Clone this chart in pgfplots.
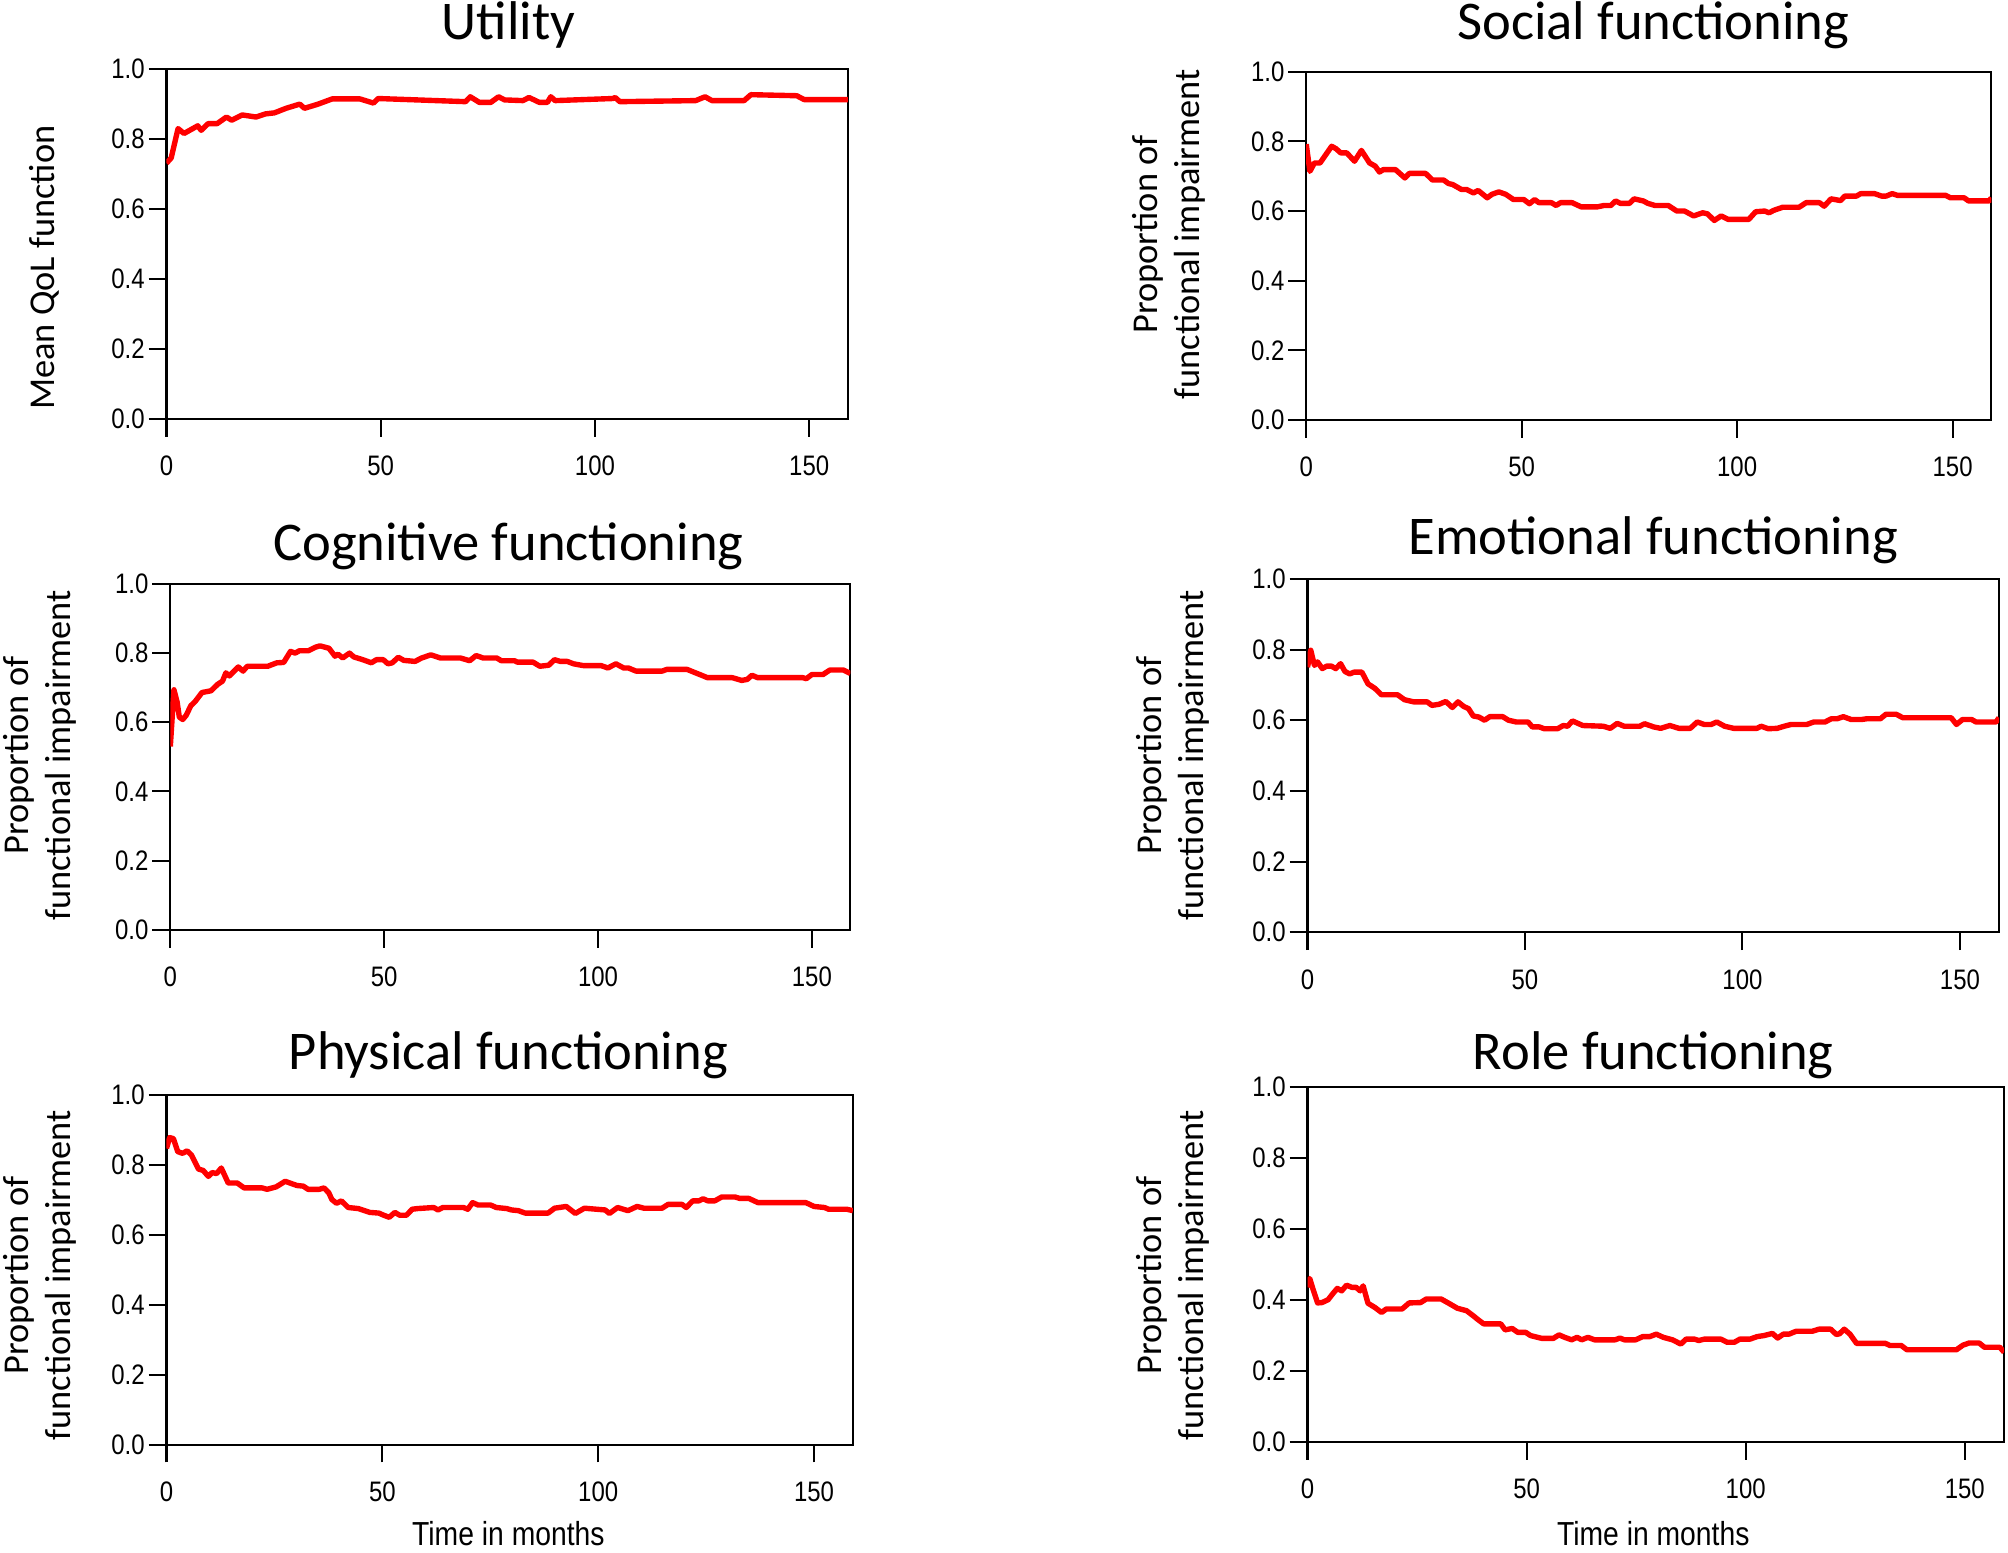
\documentclass[border=0pt]{standalone}
\usepackage{fontspec}
\setmainfont{Carlito}
\newfontfamily\tickfont[FakeStretch=0.85]{Liberation Sans}
\usepackage{pgfplots}
\pgfplotsset{compat=1.18}
\pgfplotsset{panel/.style={
  scale only axis, anchor=south west,
  xmin=0, xmax=159, ymin=0, ymax=1,
  xtick={0,50,100,150}, xticklabels={0,50,100,150},
  ytick={0,0.2,0.4,0.6,0.8,1}, yticklabels={0.0,0.2,0.4,0.6,0.8,1.0},
  xtick pos=lower, ytick pos=left,
  tick align=outside, major tick length=7pt,
  tick style={black, line width=0.8pt},
  axis line style={black, line width=0.8pt},
  tick label style={font=\tickfont\fontsize{11}{12}\selectfont},
  xticklabel style={yshift=-4pt},
  yticklabel style={xshift=2pt},
  every axis plot post/.append style={red, line width=2.1pt, line join=round, mark=none},
}}
\newcommand{\ttl}[1]{\fontsize{21.3}{24}\selectfont #1}
\newcommand{\ylab}{\fontsize{14.2}{16.5}\selectfont}
\begin{document}
\begin{tikzpicture}
\path[use as bounding box] (0,0) rectangle (784pt,606pt);
% Utility
\begin{axis}[panel, at={(65pt,442.5pt)}, width=266pt, height=136.5pt]
\addplot coordinates {(0,0.731)(1.1,0.746)(2.7,0.830)(4.1,0.816)(7.3,0.838)(8.1,0.825)(9.7,0.844)(11.8,0.844)(14,0.863)(15.2,0.854)(17.7,0.869)(20.9,0.863)(23.1,0.872)(25.2,0.875)(27.9,0.888)(31.1,0.9)(32.2,0.888)(35.4,0.9)(38.7,0.915)(45.1,0.915)(48.3,0.903)(49.4,0.916)(69.8,0.907)(70.9,0.921)(73.0,0.905)(75.7,0.905)(77.5,0.921)(78.9,0.912)(83.2,0.910)(84.6,0.919)(87.0,0.905)(88.9,0.905)(89.7,0.921)(90.7,0.910)(104.2,0.916)(104.7,0.919)(105.8,0.907)(123.5,0.910)(125.7,0.921)(127.3,0.910)(134.8,0.910)(136.4,0.927)(147.1,0.924)(148.8,0.913)(159,0.913)};
\end{axis}
% Social
\begin{axis}[panel, at={(510pt,442pt)}, width=267.5pt, height=136pt]
\addplot coordinates {(0,0.792)(0.85,0.714)(1.9,0.738)(3.2,0.738)(5.9,0.786)(6.9,0.779)(8.0,0.767)(9.4,0.767)(11.2,0.743)(12.8,0.774)(14.7,0.738)(16.0,0.729)(17.0,0.712)(17.9,0.719)(20.7,0.719)(22.9,0.695)(23.9,0.708)(27.7,0.708)(29.3,0.689)(31.9,0.689)(33.0,0.679)(34.0,0.676)(36.0,0.662)(37.2,0.662)(38.8,0.652)(39.9,0.659)(42.0,0.638)(43.1,0.648)(44.7,0.655)(46.3,0.648)(48.1,0.633)(50.5,0.633)(51.8,0.621)(53.0,0.633)(54.0,0.624)(56.9,0.624)(58.0,0.616)(59.0,0.624)(61.7,0.624)(63.8,0.612)(67.6,0.612)(69.1,0.616)(70.7,0.616)(71.8,0.629)(72.9,0.622)(75.0,0.622)(76.1,0.635)(78.2,0.629)(79.3,0.622)(80.9,0.616)(84.0,0.616)(86.0,0.6)(87.8,0.6)(89.9,0.586)(92.0,0.595)(93.1,0.592)(94.7,0.573)(96.3,0.586)(97.9,0.576)(102.7,0.576)(104.3,0.598)(106.4,0.6)(107.4,0.595)(108.5,0.602)(110.6,0.611)(114.4,0.611)(116.0,0.624)(119.1,0.624)(120.2,0.614)(121.8,0.635)(124.0,0.630)(125.0,0.643)(127.7,0.643)(128.7,0.650)(131.9,0.650)(133.5,0.643)(134.6,0.643)(136.0,0.650)(137.2,0.645)(148.4,0.645)(149.5,0.638)(152.7,0.638)(153.7,0.629)(158.5,0.629)(159,0.638)};
\end{axis}
% Cognitive
\begin{axis}[panel, at={(66.5pt,243pt)}, width=265.5pt, height=135pt]
\addplot coordinates {(0,0.530)(0.85,0.694)(1.6,0.658)(2.1,0.615)(2.9,0.608)(3.7,0.620)(4.8,0.648)(5.8,0.660)(7.4,0.686)(9.5,0.691)(11.1,0.710)(12.2,0.719)(13.0,0.743)(13.8,0.734)(15.9,0.760)(17.0,0.748)(18.0,0.762)(22.8,0.762)(24.9,0.772)(26.5,0.773)(28.1,0.805)(29.2,0.8)(30.2,0.807)(32.3,0.807)(33.9,0.817)(35.0,0.821)(37.1,0.814)(38.5,0.791)(39.2,0.797)(40.3,0.786)(41.9,0.8)(42.9,0.789)(45.0,0.781)(47.0,0.772)(48.2,0.781)(49.8,0.781)(50.9,0.769)(51.9,0.772)(53.3,0.788)(54.6,0.779)(57.2,0.776)(58.8,0.786)(60.9,0.795)(63.1,0.786)(67.8,0.786)(70.0,0.778)(71.5,0.793)(73.1,0.786)(76.3,0.786)(77.4,0.778)(80.5,0.778)(81.1,0.774)(84.8,0.774)(86.4,0.762)(88.5,0.765)(89.8,0.781)(91.2,0.776)(92.8,0.776)(94.3,0.769)(96.5,0.764)(100.7,0.764)(102.3,0.757)(104.2,0.769)(106.0,0.757)(107.1,0.757)(108.9,0.748)(115.0,0.748)(116.1,0.753)(120.8,0.753)(124.6,0.734)(125.6,0.729)(131.4,0.729)(133.6,0.721)(134.9,0.724)(136.0,0.736)(137.3,0.729)(147.9,0.729)(148.7,0.726)(150.0,0.738)(152.6,0.738)(154.2,0.751)(157.4,0.751)(159,0.741)};
\end{axis}
% Emotional
\begin{axis}[panel, at={(510.5pt,242pt)}, width=270pt, height=138pt]
\addplot coordinates {(0,0.750)(0.74,0.798)(1.6,0.755)(2.3,0.765)(3.4,0.746)(4.4,0.753)(5.5,0.753)(6.5,0.746)(7.6,0.760)(8.6,0.738)(9.7,0.731)(10.7,0.736)(12.5,0.736)(13.9,0.703)(15.5,0.690)(17.0,0.672)(20.7,0.672)(22.3,0.658)(24.4,0.652)(27.5,0.652)(28.6,0.642)(30.2,0.645)(31.8,0.653)(33.3,0.636)(34.6,0.652)(35.9,0.639)(37.0,0.633)(38.1,0.612)(39.4,0.609)(40.7,0.6)(41.9,0.610)(44.9,0.610)(46.2,0.6)(48.0,0.595)(50.7,0.595)(51.7,0.581)(53.3,0.581)(54.4,0.576)(57.5,0.576)(58.8,0.585)(59.8,0.583)(60.9,0.598)(63.3,0.585)(68.0,0.583)(69.6,0.577)(71.2,0.591)(72.8,0.583)(76.4,0.583)(77.5,0.590)(79.6,0.581)(81.2,0.577)(83.3,0.585)(85.4,0.577)(88.0,0.577)(89.6,0.595)(91.2,0.588)(92.8,0.588)(94.1,0.595)(95.9,0.583)(98.0,0.577)(103.3,0.577)(104.3,0.583)(105.9,0.576)(108.0,0.577)(109.6,0.583)(111.2,0.588)(114.8,0.588)(116.4,0.595)(119.0,0.595)(120.4,0.604)(121.7,0.604)(123.2,0.610)(125.0,0.602)(127.4,0.602)(128.5,0.604)(131.7,0.604)(133.0,0.617)(135.3,0.617)(136.9,0.607)(148.0,0.607)(149.2,0.588)(150.6,0.602)(152.7,0.602)(153.7,0.595)(158.3,0.595)(159,0.607)};
\end{axis}
% Physical
\begin{axis}[panel, at={(65pt,42pt)}, width=268pt, height=136.5pt]
\addplot coordinates {(0,0.847)(0.74,0.878)(1.6,0.875)(2.6,0.838)(3.7,0.833)(4.8,0.840)(5.8,0.828)(7.4,0.788)(8.5,0.784)(9.7,0.767)(10.6,0.778)(11.6,0.775)(12.7,0.791)(14.3,0.748)(16.4,0.748)(18.0,0.734)(22.2,0.734)(23.3,0.730)(25.4,0.737)(27.5,0.753)(28.6,0.748)(30.2,0.741)(31.7,0.739)(32.8,0.730)(35.4,0.730)(36.5,0.734)(37.6,0.720)(38.3,0.701)(39.4,0.690)(40.5,0.697)(42.1,0.678)(44.4,0.675)(47.1,0.664)(49.2,0.662)(50.3,0.656)(51.6,0.650)(52.9,0.664)(54.0,0.656)(55.6,0.656)(56.9,0.673)(58.2,0.675)(61.9,0.678)(62.9,0.671)(64.0,0.678)(68.8,0.678)(69.8,0.673)(70.9,0.692)(72.2,0.685)(75.1,0.685)(76.4,0.678)(78.8,0.675)(79.9,0.671)(81.5,0.669)(83.1,0.662)(88.4,0.662)(89.9,0.676)(92.6,0.681)(94.7,0.661)(96.8,0.676)(101.6,0.671)(102.6,0.661)(104.5,0.678)(106.9,0.669)(109.0,0.681)(110.6,0.676)(114.8,0.676)(116.2,0.687)(119.4,0.687)(120.4,0.678)(121.9,0.697)(123.3,0.697)(124.3,0.703)(125.4,0.697)(127.0,0.697)(128.6,0.708)(131.7,0.708)(132.8,0.704)(134.9,0.704)(137.0,0.692)(148.1,0.692)(150.0,0.681)(152.4,0.678)(153.4,0.673)(157.6,0.673)(159,0.669)};
\end{axis}
% Role
\begin{axis}[panel, at={(510.5pt,43pt)}, width=272pt, height=138.5pt]
\addplot coordinates {(0,0.436)(0.5,0.461)(1.25,0.431)(2.3,0.392)(3.3,0.393)(4.7,0.401)(5.7,0.417)(6.8,0.433)(7.8,0.426)(8.9,0.442)(10.1,0.436)(11.1,0.436)(12.0,0.426)(12.7,0.440)(13.8,0.391)(15.4,0.379)(16.9,0.365)(18.0,0.375)(21.6,0.375)(23.2,0.392)(25.8,0.393)(27.1,0.403)(30.5,0.403)(32.1,0.392)(34.2,0.377)(36.3,0.370)(37.8,0.356)(38.9,0.345)(40.2,0.333)(44.1,0.333)(45.1,0.316)(46.7,0.320)(48.0,0.309)(49.8,0.309)(50.9,0.300)(53.5,0.292)(56.1,0.292)(57.4,0.302)(58.7,0.295)(60.3,0.288)(61.5,0.295)(62.6,0.288)(64.0,0.295)(65.5,0.288)(70.2,0.288)(71.3,0.293)(72.3,0.288)(74.9,0.288)(76.5,0.297)(78.1,0.297)(79.6,0.304)(81.2,0.295)(83.3,0.288)(85.2,0.276)(86.4,0.290)(88.3,0.290)(89.3,0.286)(90.6,0.290)(94.3,0.290)(95.8,0.281)(97.4,0.281)(98.7,0.290)(101.0,0.290)(102.6,0.297)(104.2,0.300)(106.1,0.306)(107.3,0.293)(108.6,0.304)(109.9,0.304)(111.5,0.312)(115.2,0.312)(116.7,0.318)(119.4,0.318)(120.7,0.303)(121.4,0.305)(122.5,0.318)(123.8,0.304)(125.3,0.278)(131.9,0.278)(132.9,0.272)(135.5,0.272)(136.8,0.260)(148.1,0.260)(149.6,0.273)(151.0,0.279)(153.3,0.279)(154.5,0.267)(158.0,0.267)(159,0.253)};
\end{axis}
% titles
\node[anchor=base] at (198.5pt,590.5pt) {\ttl{Utility}};
\node[anchor=base] at (645.5pt,590.5pt) {\ttl{Social functioning}};
\node[anchor=base] at (198.5pt,387pt) {\ttl{Cognitive functioning}};
\node[anchor=base] at (645.5pt,389.5pt) {\ttl{Emotional functioning}};
\node[anchor=base] at (198.5pt,188.5pt) {\ttl{Physical functioning}};
\node[anchor=base] at (645.5pt,188.5pt) {\ttl{Role functioning}};
% y labels
\node[rotate=90,font=\ylab] at (17.5pt,501.5pt) {Mean QoL function};
\node[rotate=90,align=center,font=\ylab] at (456.5pt,514.5pt) {Proportion of\\functional impairment};
\node[rotate=90,align=center,font=\ylab] at (15.5pt,311pt) {Proportion of\\functional impairment};
\node[rotate=90,align=center,font=\ylab] at (458pt,311pt) {Proportion of\\functional impairment};
\node[rotate=90,align=center,font=\ylab] at (15.5pt,108pt) {Proportion of\\functional impairment};
\node[rotate=90,align=center,font=\ylab] at (458pt,108pt) {Proportion of\\functional impairment};
% x labels
\node[anchor=base] at (198.5pt,2.5pt) {\tickfont\fontsize{13}{15}\selectfont Time in months};
\node[anchor=base] at (645.5pt,2.5pt) {\tickfont\fontsize{13}{15}\selectfont Time in months};
\end{tikzpicture}
\end{document}
